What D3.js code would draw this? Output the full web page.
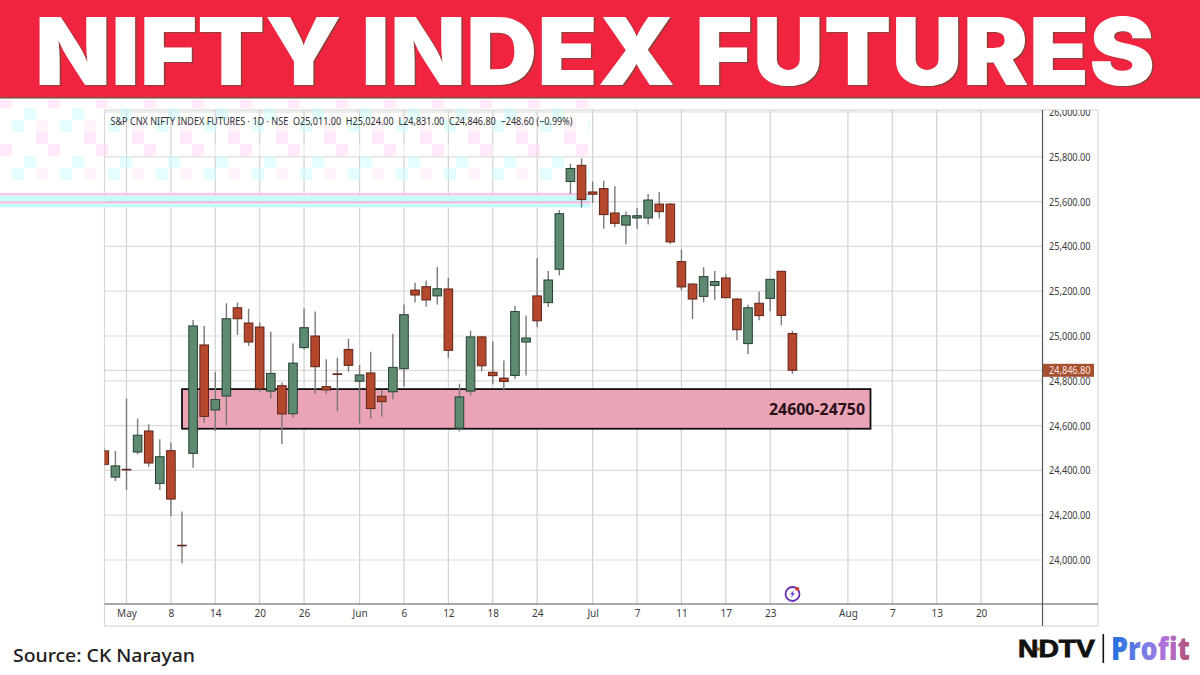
<!DOCTYPE html>
<html><head><meta charset="utf-8">
<script src="https://cdnjs.cloudflare.com/ajax/libs/d3/7.9.0/d3.min.js"></script>
<style>html,body{margin:0;padding:0;background:#fff;overflow:hidden}svg{display:block}</style>
</head><body><svg id="c" width="1200" height="675"></svg>
<script>
const opens =[24487,24370,24405,24482,24576,24342,24488,24066,24476,24960,24670,24732,25126,25058,25040,24754,24778,24653,24948,25000,24774,24831,24940,24798,24835,24731,24751,24854,25205,25220,25179,25210,24588,24754,24996,24838,24812,24824,24973,25179,25149,25298,25690,25762,25643,25658,25549,25495,25527,25527,25589,25589,25332,25232,25177,25226,25259,25165,24966,25146,25168,25289,25011];
const highs =[24500,24487,24720,24632,24606,24539,24524,24217,25071,25045,24839,25146,25149,25122,25060,25019,24792,24966,25123,25109,24896,24903,24988,24870,24930,24760,25010,25141,25238,25248,25308,25259,24787,25024,25000,24976,24891,25135,25091,25348,25290,25561,25769,25792,25690,25693,25668,25556,25571,25634,25643,25592,25385,25235,25307,25290,25274,25168,25140,25199,25253,25289,25024];
const lows  =[24420,24353,24312,24472,24415,24312,24196,23985,24412,24613,24576,24601,25004,24955,24750,24722,24518,24635,24940,24742,24742,24664,24841,24610,24631,24640,24717,24774,25149,25131,25141,24902,24574,24735,24842,24786,24757,24808,24824,25039,25129,25271,25634,25574,25594,25479,25485,25408,25478,25498,25524,25411,25204,25076,25150,25162,25170,24981,24920,25070,25110,25048,24831];
const closes=[24427,24420,24402,24557,24433,24461,24272,24065,25045,24641,24716,25077,25077,24973,24765,24833,24652,24879,25037,24863,24759,24830,24869,24826,24676,24707,24860,25095,25183,25161,25211,24936,24728,24996,24867,24823,24797,25109,24991,25068,25250,25546,25748,25609,25633,25542,25503,25537,25537,25607,25555,25420,25219,25165,25265,25243,25171,25028,25126,25091,25253,25092,24847];
const priceTicks=[26000,25800,25600,25400,25200,25000,24800,24600,24400,24200,24000];
const dateTickIdx=[2,6,10,14,18,23,27,31,35,39,44,48,52,56,60,67,71,75,79];
const dateTickLabels=["May","8","14","20","26","Jun","6","12","18","24","Jul","7","11","17","23","Aug","7","13","20"];
const zoneBounds=[24763,24586];
const zoneLabel="24600-24750";
const lastClose=24846.8;
const headerText="S&P CNX NIFTY INDEX FUTURES · 1D · NSE  O25,011.00  H25,024.00  L24,831.00  C24,846.80  −248.60 (−0.99%)";
const titleText="NIFTY INDEX FUTURES";
const sourceText="Source: CK Narayan";

const uiFont="'Noto Sans','Open Sans',sans-serif";
const svg=d3.select("#c");
const x=d3.scaleLinear().domain([0,79]).range([104.3,981.1]);
const y=d3.scaleLinear().domain([26000,24000]).range([112,560]);
const L=104.5,R=1042.5,T=110,B=604,FB=626,FR=1098;

const defs=svg.append("defs");
defs.append("clipPath").attr("id","plot").append("rect").attr("x",L).attr("y",T).attr("width",R-L).attr("height",B-T);
defs.append("clipPath").attr("id","frame").append("rect").attr("x",R).attr("y",T).attr("width",FR-R).attr("height",FB-T);
const pat=defs.append("pattern").attr("id","ghost").attr("patternUnits","userSpaceOnUse").attr("width",48).attr("height",48);
[[0,0,"#ffd6f5"],[24,12,"#c9fbfb"],[12,24,"#c9fbfb"],[36,36,"#ffd6f5"],[12,0,"#ffffff"],[36,24,"#ffe6f9"]].forEach(d=>
  pat.append("rect").attr("x",d[0]).attr("y",d[1]).attr("width",12).attr("height",12).attr("fill",d[2]));
const grad=defs.append("linearGradient").attr("id","profit");
[[0,"#1d6fe0"],[.45,"#7d7fe6"],[.7,"#b46fd8"],[1,"#b0506f"]].forEach(d=>grad.append("stop").attr("offset",d[0]).attr("stop-color",d[1]));

// frame
svg.append("rect").attr("x",L).attr("y",T).attr("width",FR-L).attr("height",FB-T).attr("fill","#fff").attr("stroke","#d8d8d8").attr("stroke-width",1.2);

// grid
const grid=svg.append("g").attr("clip-path","url(#plot)");
grid.selectAll("line.v").data(dateTickIdx).join("line").attr("class","v")
  .attr("x1",d=>x(d)).attr("x2",d=>x(d)).attr("y1",T).attr("y2",B).attr("stroke","#d2d2d2").attr("stroke-width",1.2);
grid.selectAll("line.h").data(priceTicks).join("line").attr("class","h")
  .attr("x1",L).attr("x2",R).attr("y1",d=>y(d)).attr("y2",d=>y(d)).attr("stroke","#dcdcdc").attr("stroke-width",1.2);

// ghost residue from the source image, beneath the candles
svg.append("rect").attr("x",0).attr("y",99).attr("width",590).attr("height",81).attr("fill","url(#ghost)").attr("opacity",.5);
svg.append("rect").attr("x",0).attr("y",193).attr("width",590).attr("height",2.5).attr("fill","#ffc4ee");
svg.append("rect").attr("x",0).attr("y",195.5).attr("width",590).attr("height",6).attr("fill","#c4fbfb");
svg.append("rect").attr("x",0).attr("y",201.5).attr("width",590).attr("height",2).attr("fill","#ffb0dd");
svg.append("rect").attr("x",0).attr("y",203.5).attr("width",590).attr("height",4).attr("fill","#c9fbfb");

// zone
svg.append("rect").attr("x",182).attr("width",688.5)
  .attr("y",y(zoneBounds[0])).attr("height",y(zoneBounds[1])-y(zoneBounds[0]))
  .attr("fill","#eba3b6").attr("stroke","#111").attr("stroke-width",1.8);

// last price dotted line
svg.append("line").attr("x1",L).attr("x2",R).attr("y1",y(lastClose)).attr("y2",y(lastClose))
  .attr("stroke","#b7a58c").attr("stroke-width",1).attr("stroke-dasharray","1 1");

// candles
const idx=d3.range(opens.length);
const up=i=>closes[i]>=opens[i];
const candles=svg.append("g").attr("clip-path","url(#plot)");
candles.selectAll("line.w").data(idx).join("line").attr("class","w")
  .attr("x1",i=>x(i)).attr("x2",i=>x(i)).attr("y1",i=>y(highs[i])).attr("y2",i=>y(lows[i]))
  .attr("stroke","#7a7a7a").attr("stroke-width",1.4);
candles.selectAll("rect").data(idx).join("rect")
  .attr("x",i=>x(i)-4.3).attr("width",8.6)
  .attr("y",i=>y(Math.max(opens[i],closes[i])))
  .attr("height",i=>Math.max(.6,Math.abs(y(opens[i])-y(closes[i]))))
  .attr("fill",i=>up(i)?"#5f8a72":"#b5482c")
  .attr("stroke",i=>up(i)?"#24402f":"#5f2417").attr("stroke-width",1);

// zone label
svg.append("text").attr("x",769).attr("y",414.7)
  .attr("font-family","'Noto Sans',sans-serif").attr("font-weight",700).attr("font-size",15.5)
  .attr("fill","#2a1019").attr("textLength",96).attr("lengthAdjust","spacingAndGlyphs").text(zoneLabel);

// axes
const yAxis=d3.axisRight(y).tickValues(priceTicks).tickSize(0).tickPadding(0).tickFormat(d3.format(",.2f"));
const yg=svg.append("g").attr("clip-path","url(#frame)").append("g").attr("transform",`translate(1049,0)`).call(yAxis);
yg.select(".domain").remove();
yg.selectAll("text").attr("font-family",uiFont).attr("font-size",10.8).attr("fill","#3c3c3c")
  .attr("textLength",41.5).attr("lengthAdjust","spacingAndGlyphs");

const xAxis=d3.axisBottom(x).tickValues(dateTickIdx).tickSize(0).tickPadding(0)
  .tickFormat(d=>dateTickLabels[dateTickIdx.indexOf(d)]);
const xg=svg.append("g").attr("transform",`translate(0,${B+6})`).call(xAxis);
xg.select(".domain").remove();
xg.selectAll("text").attr("font-family",uiFont).attr("font-size",10).attr("fill","#3c3c3c");

svg.append("line").attr("x1",L).attr("x2",FR).attr("y1",B).attr("y2",B).attr("stroke","#555").attr("stroke-width",1.2);
svg.append("line").attr("x1",R).attr("x2",R).attr("y1",T).attr("y2",FB).attr("stroke","#555").attr("stroke-width",1.2);

// last price tag
svg.append("rect").attr("x",R+.5).attr("y",y(lastClose)-6.5).attr("width",51).attr("height",13).attr("fill","#a5502f");
svg.append("text").attr("x",1049).attr("y",y(lastClose)+3.7).attr("font-family",uiFont).attr("font-size",10.8).attr("fill","#ffe4e0")
  .attr("textLength",41.5).attr("lengthAdjust","spacingAndGlyphs").text(d3.format(",.2f")(lastClose));

// header
svg.append("text").attr("x",110.5).attr("y",124.8).attr("font-family",uiFont).attr("font-size",10.8).attr("fill","#2e2e2e")
  .attr("textLength",462).attr("lengthAdjust","spacingAndGlyphs").attr("xml:space","preserve").text(headerText);

// banner
svg.append("rect").attr("width",1200).attr("height",97).attr("fill","#f0243e");
svg.append("rect").attr("y",97).attr("width",1200).attr("height",1.5).attr("fill","#7a4a3a");
const titleAttrs=s=>s.attr("y",85).attr("font-family","Inter,'Open Sans',sans-serif").attr("font-weight",900).attr("font-size",94)
  .attr("textLength",1120).attr("lengthAdjust","spacingAndGlyphs").text(titleText);
svg.append("text").attr("x",36.5).attr("fill","#8a4038").attr("transform","translate(0,1.2)").call(titleAttrs);
svg.append("text").attr("x",35).attr("fill","#fff").call(titleAttrs);

// icon
const ic=svg.append("g").attr("transform","translate(792.5,594)");
ic.append("circle").attr("r",7).attr("fill","#fff").attr("stroke","#6a2fb8").attr("stroke-width",1.8);
ic.append("path").attr("d",d3.line()([[1.8,-4],[-2.6,.6],[-.2,.6],[-1.8,4],[2.6,-.8],[.2,-.8]])+"Z").attr("fill","#5c3fd0");
ic.append("circle").attr("cx",4.8).attr("cy",-5).attr("r",2.1).attr("fill","#c8443c");

// footer
svg.append("text").attr("x",13).attr("y",661.5).attr("font-family","'Noto Sans',sans-serif").attr("font-weight",500).attr("font-size",18.5)
  .attr("fill","#1c1c1c").attr("textLength",182).attr("lengthAdjust","spacingAndGlyphs").text(sourceText);
svg.append("text").attr("x",1018).attr("y",657).attr("font-family","'Liberation Sans',sans-serif").attr("font-weight",700).attr("font-size",23)
  .attr("fill","#111").attr("stroke","#111").attr("stroke-width",.8).attr("textLength",77).attr("lengthAdjust","spacingAndGlyphs").text("NDTV");
svg.append("circle").attr("cx",1038).attr("cy",649).attr("r",1.8).attr("fill","#8a5a2a");
svg.append("rect").attr("x",1102.5).attr("y",634).attr("width",1.6).attr("height",29).attr("fill","#111");
svg.append("text").attr("x",1111).attr("y",660).attr("font-family","'Open Sans',sans-serif").attr("font-weight",800).attr("font-size",31)
  .attr("fill","url(#profit)").attr("textLength",79).attr("lengthAdjust","spacingAndGlyphs").text("Profit");
</script></body></html>
